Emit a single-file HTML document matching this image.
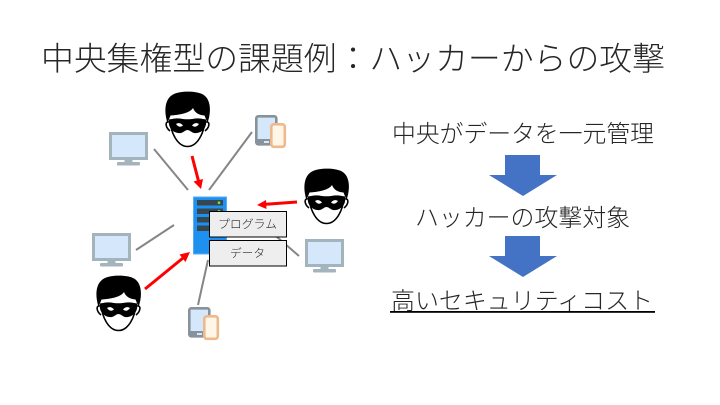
<!DOCTYPE html>
<html lang="ja">
<head>
<meta charset="utf-8">
<style>
html,body{margin:0;padding:0;background:#fff;width:720px;height:405px;overflow:hidden}
svg{display:block}
text{font-family:"Liberation Sans","Noto Sans CJK JP",sans-serif;font-weight:300;fill:#262626}
</style>
</head>
<body>
<svg width="720" height="405" viewBox="0 0 720 405" xmlns="http://www.w3.org/2000/svg">
<defs>
  <symbol id="face" viewBox="0 0 45 55" width="45" height="55" overflow="visible">
    <path d="M5 28 C6 42 13 54.500 22.500 54.500 C32 54.500 39 42 40 28 Z" fill="#fff" stroke="#000" stroke-width="1.600"/>
    <path d="M4 30 C0 29 0 35 5 39 M41 30 C45 29 45 35 40 39" fill="none" stroke="#000" stroke-width="1.600"/>
    <path d="M2.500 31 C-1.500 18 0 6 9 2 C15 -1 31 -1.500 38 2.500 C46 7 46.500 20 42.500 31 L39.500 23.500 C34 23 30 21 28 16 C25 21 14 23 5.500 23.500 Z" fill="#000"/>
    <path d="M4 28 C11 25 18 27 22.500 28 C27 27 34 25 41 28 C42.500 36 36 42 29 41 C26 40 24.500 38 22.500 38 C20.500 38 19 40 16 41 C9 42 2.500 36 4 28 Z" fill="#000"/>
    <path d="M11 32 C13.500 30.500 16 31 18 33.500 C15.500 35.500 13 35 11 32 Z M34 32 C31.500 30.500 29 31 27 33.500 C29.500 35.500 32 35 34 32 Z" fill="#fff"/>
  </symbol>
  <symbol id="monitor" viewBox="0 0 39 34" width="39" height="34" overflow="visible">
    <rect x="1.500" y="1.500" width="36" height="25" fill="#d5e8fb" stroke="#a3b4bd" stroke-width="3"/>
    <rect x="15.500" y="27" width="8" height="4" fill="#a3b4bd"/>
    <rect x="8" y="30" width="23" height="3.500" rx="1" fill="#a3b4bd"/>
  </symbol>
  <symbol id="device" viewBox="0 0 31 33" width="31" height="33" overflow="visible">
    <rect x="1.300" y="1.300" width="20" height="28" rx="2" fill="#d5e8fb" stroke="#87929a" stroke-width="2.600"/>
    <rect x="1" y="24" width="20" height="6" fill="#87929a"/>
    <rect x="9" y="26" width="5" height="2" fill="#d5e8fb"/>
    <rect x="16.300" y="9.300" width="13.500" height="22.500" rx="2.500" fill="#fff6ea" stroke="#efb98b" stroke-width="2.600"/>
  </symbol>
</defs>

<text x="41" y="70" font-size="32.500" textLength="624" lengthAdjust="spacingAndGlyphs">中央集権型の課題例：ハッカーからの攻撃</text>

<g stroke="#868686" stroke-width="2" fill="none">
  <line x1="154" y1="149" x2="188" y2="190"/>
  <line x1="252" y1="132" x2="209" y2="190"/>
  <line x1="277" y1="237" x2="299" y2="256"/>
  <line x1="136" y1="250" x2="174" y2="225"/>
  <line x1="208" y1="260" x2="198" y2="305"/>
</g>

<use href="#face" x="165" y="92"/>
<use href="#face" x="304" y="169"/>
<use href="#face" x="96" y="276"/>

<use href="#monitor" x="109" y="132"/>
<use href="#monitor" x="92" y="233"/>
<use href="#monitor" x="305" y="239"/>

<use href="#device" x="255" y="115"/>
<use href="#device" x="188" y="307"/>

<rect x="193.500" y="197" width="33" height="57" fill="#1e90f0" stroke="#57adf5" stroke-width="1"/>
<rect x="197" y="200" width="26" height="5.500" fill="#37474f"/>
<rect x="197" y="208.500" width="26" height="5.500" fill="#37474f"/>
<rect x="197" y="217" width="26" height="5.500" fill="#37474f"/>
<rect x="197" y="225.500" width="26" height="5.500" fill="#37474f"/>
<circle cx="219" cy="202.700" r="1.300" fill="#8be03c"/>
<circle cx="219" cy="211.200" r="1.300" fill="#8be03c"/>

<rect x="209.500" y="211.500" width="77" height="25.500" fill="#eeeeee" stroke="#000" stroke-width="1"/>
<rect x="209.500" y="240.500" width="77" height="25.500" fill="#eeeeee" stroke="#000" stroke-width="1"/>
<text x="218" y="228" font-size="11.500" textLength="59" lengthAdjust="spacingAndGlyphs">プログラム</text>
<text x="230" y="257" font-size="11.500" textLength="35" lengthAdjust="spacingAndGlyphs">データ</text>

<g stroke="#ff0000" stroke-width="3" fill="none">
  <line x1="192" y1="156" x2="198.500" y2="181"/>
  <line x1="297" y1="202" x2="266" y2="204.300"/>
  <line x1="145" y1="289" x2="183" y2="258"/>
</g>
<g fill="#ff0000">
  <polygon points="201,189 193.500,181.500 203,179"/>
  <polygon points="257,205 266,200 266.500,209"/>
  <polygon points="190,252 185.500,262 179.500,254.500"/>
</g>

<text x="392" y="142" font-size="24" textLength="262" lengthAdjust="spacingAndGlyphs">中央がデータを一元管理</text>
<polygon points="505,155 540,155 540,175 557,175 523,196 489,175 505,175" fill="#4472c4"/>
<text x="415" y="226" font-size="24" textLength="215" lengthAdjust="spacingAndGlyphs">ハッカーの攻撃対象</text>
<polygon points="505,236 540,236 540,256 557,256 523,277 489,256 505,256" fill="#4472c4"/>
<text x="391" y="309" font-size="24" textLength="262" lengthAdjust="spacingAndGlyphs">高いセキュリティコスト</text>
<rect x="390" y="311" width="265" height="1.800" fill="#000"/>
</svg>
</body>
</html>
